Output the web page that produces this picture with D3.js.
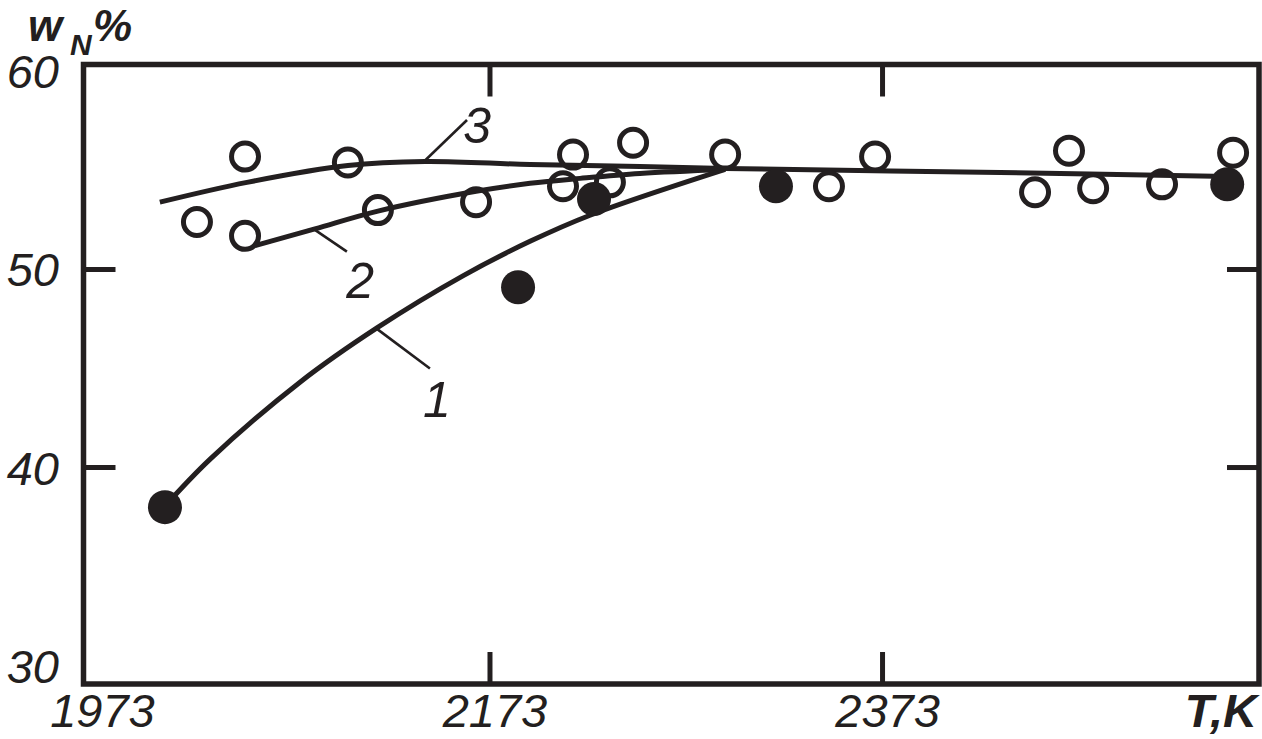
<!DOCTYPE html>
<html><head><meta charset="utf-8">
<script src="https://cdn.jsdelivr.net/npm/d3@7"></script>
<style>
html,body{margin:0;padding:0;background:#fff;}
text{font-family:"Liberation Sans",Arial,sans-serif;font-style:italic;fill:#231f20;}
</style></head>
<body>
<svg id="chart" width="1262" height="739"></svg>
<script>
// ---- data ----
const xTickValues = [1973, 2173, 2373];
const xTickLabels = ["1973", "2173", "2373"];
const yTickValues = [30, 40, 50, 60];
const yTickLabels = ["30", "40", "50", "60"];
const xMarkedTicks = [2173, 2373];
const yMarkedTicks = [40, 50];

const curve1T = [2007.4, 2030.3, 2076.2, 2115.4, 2159.2, 2193.4, 2224.0, 2292.8];
const curve1W = [38.05, 40.41, 44.31, 47.05, 49.68, 51.42, 52.74, 55.05];
const curve2T = [2053.3, 2083.8, 2115.9, 2165.9, 2193.4, 2218.9, 2249.4, 2292.8];
const curve2W = [51.2, 52.05, 52.95, 53.95, 54.35, 54.6, 54.85, 55.05];
const curve3T = [2004.8, 2049.2, 2100.6, 2139.9, 2193.4, 2249.4, 2292.8, 2432.9, 2549.1];
const curve3W = [53.4, 54.4, 55.25, 55.45, 55.3, 55.2, 55.1, 54.9, 54.7];

const filledT = [2007.4, 2187.3, 2226.0, 2318.7, 2548.6];
const filledW = [38.0, 49.1, 53.56, 54.2, 54.3];
const openT = [2023.7, 2048.2, 2048.2, 2100.6, 2115.9, 2165.9, 2210.2, 2215.3, 2234.1, 2245.9, 2292.8, 2345.7, 2369.2, 2450.7, 2468.0, 2480.3, 2515.4, 2551.6];
const openW = [52.4, 55.7, 51.7, 55.4, 53.0, 53.4, 54.2, 55.8, 54.4, 56.4, 55.8, 54.2, 55.7, 53.9, 56.0, 54.1, 54.3, 55.9];

const curveLabels = ["1", "2", "3"];
const leaderFromT = [2115.4, 2083.8, 2139.9];
const leaderFromW = [47.0, 52.0, 55.5];
const leaderToT = [2142.4, 2100.1, 2161.3];
const leaderToW = [45.0, 50.9, 57.55];
const labelT = [2146.0, 2106.8, 2166.5];
const labelW = [42.55, 48.56, 56.4];

// ---- drawing ----
const ink = "#231f20";
const svg = d3.select("#chart");
const x = d3.scaleLinear().domain([1965.9, 2564.8]).range([83.5, 1259]);
const y = d3.scaleLinear().domain([29.07, 60.35]).range([684, 64.5]);
const [x0, x1] = x.range();
const [y0, y1] = y.range();

// inward ticks (bottom, top, left, right)
const tickLen = 32;
const gt = svg.append("g").attr("stroke", ink).attr("stroke-width", 5);
xMarkedTicks.forEach(t => {
  gt.append("line").attr("x1", x(t)).attr("x2", x(t)).attr("y1", y0).attr("y2", y0 - tickLen);
  gt.append("line").attr("x1", x(t)).attr("x2", x(t)).attr("y1", y1).attr("y2", y1 + tickLen);
});
yMarkedTicks.forEach(v => {
  gt.append("line").attr("x1", x0).attr("x2", x0 + tickLen).attr("y1", y(v)).attr("y2", y(v));
  gt.append("line").attr("x1", x1).attr("x2", x1 - tickLen).attr("y1", y(v)).attr("y2", y(v));
});

// frame
svg.append("rect").attr("x", x0).attr("y", y1).attr("width", x1 - x0).attr("height", y0 - y1)
  .attr("fill", "none").attr("stroke", ink).attr("stroke-width", 5.5);

// tick labels
svg.append("g").selectAll("text").data(xTickValues).join("text")
  .attr("x", d => x(d) + 5).attr("y", 727).attr("text-anchor", "middle")
  .attr("font-size", 47).text((d, i) => xTickLabels[i]);
svg.append("g").selectAll("text").data(yTickValues).join("text")
  .attr("x", 59).attr("y", d => y(d) + 17).attr("text-anchor", "end")
  .attr("font-size", 47).text((d, i) => yTickLabels[i]);

// axis titles
svg.append("text").attr("x", 1257).attr("y", 727).attr("text-anchor", "end")
  .attr("font-size", 47).attr("font-weight", "bold").text("T,K");
svg.append("text").attr("x", 28).attr("y", 41).attr("font-size", 44).attr("font-weight", "bold").text("w");
svg.append("text").attr("x", 70).attr("y", 55).attr("font-size", 30).attr("font-weight", "bold").text("N");
svg.append("text").attr("x", 93).attr("y", 41).attr("font-size", 44).attr("font-weight", "bold").text("%");

// curves
const line = d3.line().x(d => x(d[0])).y(d => y(d[1])).curve(d3.curveCatmullRom.alpha(0.5));
const curves = [
  d3.zip(curve1T, curve1W),
  d3.zip(curve2T, curve2W),
  d3.zip(curve3T, curve3W)
];
svg.append("g").selectAll("path").data(curves).join("path")
  .attr("d", line).attr("fill", "none").attr("stroke", ink).attr("stroke-width", 5)
  .attr("stroke-linecap", "butt");

// leaders and labels
svg.append("g").selectAll("line").data(curveLabels).join("line")
  .attr("x1", (d, i) => x(leaderFromT[i])).attr("y1", (d, i) => y(leaderFromW[i]))
  .attr("x2", (d, i) => x(leaderToT[i])).attr("y2", (d, i) => y(leaderToW[i]))
  .attr("stroke", ink).attr("stroke-width", 2.6);
svg.append("g").selectAll("text").data(curveLabels).join("text")
  .attr("x", (d, i) => x(labelT[i])).attr("y", (d, i) => y(labelW[i]))
  .attr("text-anchor", "middle").attr("font-size", 50).text(d => d);

// points
svg.append("g").selectAll("circle").data(d3.zip(openT, openW)).join("circle")
  .attr("cx", d => x(d[0])).attr("cy", d => y(d[1])).attr("r", 13.5)
  .attr("fill", "none").attr("stroke", ink).attr("stroke-width", 5);
svg.append("g").selectAll("circle").data(d3.zip(filledT, filledW)).join("circle")
  .attr("cx", d => x(d[0])).attr("cy", d => y(d[1])).attr("r", 17)
  .attr("fill", ink);
</script>
</body></html>
